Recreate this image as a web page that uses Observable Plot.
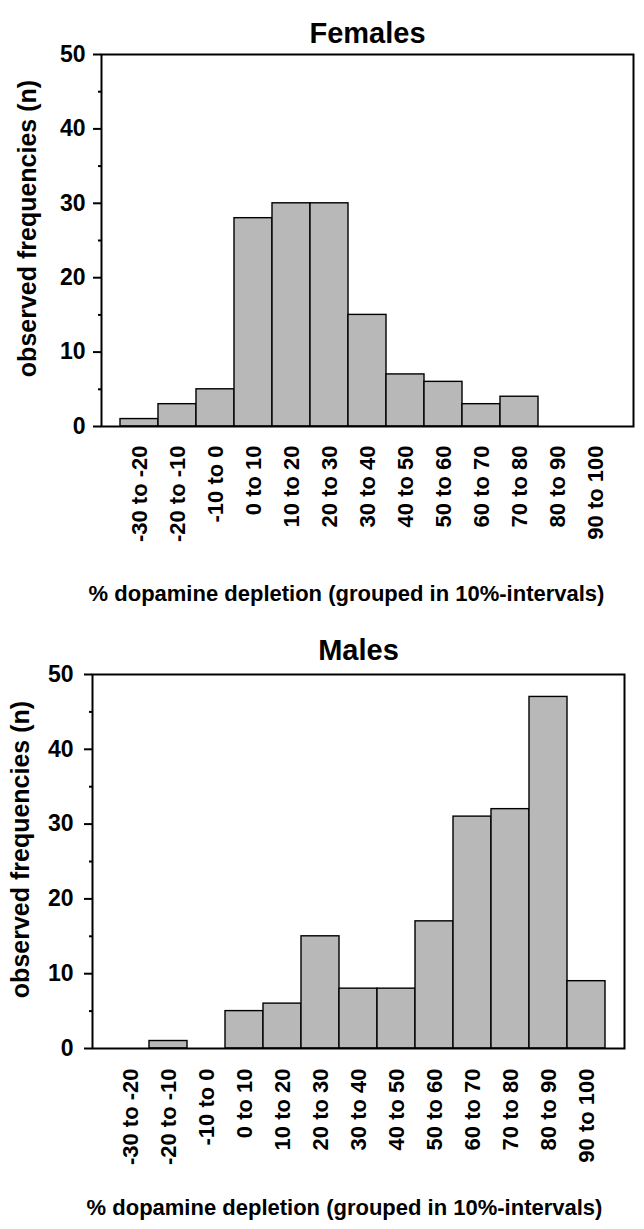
<!DOCTYPE html>
<html>
<head>
<meta charset="utf-8">
<script src="https://cdn.jsdelivr.net/npm/d3@7"></script>
<script src="https://cdn.jsdelivr.net/npm/@observablehq/plot@0.6"></script>
<style>
  html, body { margin: 0; padding: 0; background: white; }
  #chart svg { display: block; overflow: visible; }
</style>
</head>
<body>
<div id="chart"></div>
<script>
// ---- data ----
const categories = ["-30 to -20", "-20 to -10", "-10 to 0", "0 to 10", "10 to 20", "20 to 30",
  "30 to 40", "40 to 50", "50 to 60", "60 to 70", "70 to 80", "80 to 90", "90 to 100"];
const binStart = [-30, -20, -10, 0, 10, 20, 30, 40, 50, 60, 70, 80, 90];
const binWidth = 10;
const females = [1, 3, 5, 28, 30, 30, 15, 7, 6, 3, 4, 0, 0];
const males = [0, 1, 0, 5, 6, 15, 8, 8, 17, 31, 32, 47, 9];
const yTicks = [0, 10, 20, 30, 40, 50];
const yMinorTicks = [5, 15, 25, 35, 45];
const xTitle = "% dopamine depletion (grouped in 10%-intervals)";
const yTitle = "observed frequencies (n)";

const FONT = "'Liberation Sans', Arial, Helvetica, sans-serif";

function panel(o) {
  const data = binStart.map((s, i) => ({x1: s, x2: s + binWidth, n: o.counts[i], label: categories[i]}));
  const centers = binStart.map(s => s + binWidth / 2);
  const labelOf = new Map(centers.map((c, i) => [c, categories[i]]));
  return Plot.plot({
    width: 644,
    height: o.height,
    marginTop: o.mt,
    marginBottom: o.mb,
    marginLeft: o.ml,
    marginRight: o.mr,
    style: {fontFamily: FONT, fontWeight: "bold", color: "black", background: "white", overflow: "visible"},
    x: {domain: [-35, 105]},
    y: {domain: [0, 50]},
    marks: [
      Plot.rectY(data.filter(d => d.n > 0), {x1: "x1", x2: "x2", y: "n", fill: "#b8b8b8", stroke: "black", strokeWidth: 1.4}),
      Plot.frame({stroke: "black", strokeWidth: 2}),
      Plot.axisY(yTicks, {tickSize: 8, tickPadding: o.yPad, strokeWidth: 2, fontSize: 23, fontWeight: "bold", label: null}),
      Plot.axisY(yMinorTicks, {tickSize: 3, strokeWidth: 2, tickFormat: () => "", label: null}),
      Plot.axisX(centers, {tickSize: 0, tickPadding: o.xPad, tickRotate: -90, fontSize: 22, fontWeight: "bold",
        tickFormat: d => labelOf.get(d), label: null}),
      Plot.text([o.title], {frameAnchor: "top", dy: o.titleDy, text: d => d, fontSize: 29, fontWeight: "bold", lineAnchor: "middle"}),
      Plot.text([xTitle], {frameAnchor: "bottom", dx: o.xTitleDx, dy: o.xTitleDy, text: d => d, fontSize: 22, fontWeight: "bold", lineAnchor: "middle"}),
      Plot.text([yTitle], {frameAnchor: "left", textAnchor: "middle", rotate: -90, dx: o.yTitleDx, dy: -12, text: d => d, fontSize: 25, fontWeight: "bold", lineAnchor: "middle"})
    ]
  });
}

const chart = document.getElementById("chart");
chart.append(panel({
  title: "Females", counts: females, height: 615,
  mt: 54, mb: 189, ml: 101, mr: 11,
  titleDy: -21, yPad: 8, xPad: 19,
  xTitleDx: -21, xTitleDy: 167, yTitleDx: -74
}));
chart.append(panel({
  title: "Males", counts: males, height: 614,
  mt: 59, mb: 181, ml: 92, mr: 20,
  titleDy: -24, yPad: 11, xPad: 20,
  xTitleDx: -14, xTitleDy: 159, yTitleDx: -72
}));
</script>
</body>
</html>
